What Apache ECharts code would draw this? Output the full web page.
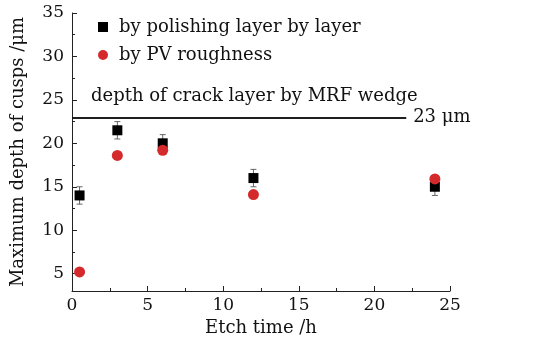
<!DOCTYPE html>
<html><head><meta charset="utf-8">
<script src="https://cdn.jsdelivr.net/npm/echarts@6/dist/echarts.min.js"></script>
<style>html,body{margin:0;padding:0;background:#fff}#c{width:545px;height:343px}</style>
</head><body><div id="c"></div>
<script>
var etchTime = [0.5, 3, 6, 12, 24];
var polishDepth = [14, 21.5, 20, 16, 15];
var polishErr = [1, 1, 1, 1, 1];
var pvDepth = [5.2, 18.6, 19.2, 14.1, 15.9];
var crackDepth = 23;
var crackLineEnd = 22.1;
var yTicks = [5, 10, 15, 20, 25, 30, 35];
var yMinorTicks = [7.5, 12.5, 17.5, 22.5, 27.5, 32.5];
var FONT = 'DejaVu Serif';

var chart = echarts.init(document.getElementById('c'));
var txt = {fontFamily: FONT, fontSize: 18, color: '#111'};
var num = {fontFamily: FONT, fontSize: 17, color: '#111'};
chart.setOption({
  animation: false,
  textStyle: {fontFamily: FONT},
  grid: {left: 72, right: 95, top: 13, bottom: 52},
  legend: {
    orient: 'vertical', left: 93, top: 13, itemWidth: 10, itemHeight: 10, itemGap: 10,
    textStyle: Object.assign({padding: [0, 0, 0, 6]}, txt),
    data: [
      {name: 'by polishing layer by layer', icon: 'rect'},
      {name: 'by PV roughness', icon: 'circle'}
    ]
  },
  xAxis: {
    type: 'value', min: 0, max: 25, interval: 5,
    name: 'Etch time /h', nameLocation: 'middle', nameGap: 26, nameTextStyle: txt,
    axisLine: {lineStyle: {color: '#222', width: 1}},
    axisTick: {inside: true, length: 5, lineStyle: {color: '#222'}},
    minorTick: {show: true, splitNumber: 2, length: 3, lineStyle: {color: '#222'}},
    axisLabel: Object.assign({margin: 6}, num),
    splitLine: {show: false}
  },
  yAxis: [{
    type: 'value', min: 3, max: 35,
    name: 'Maximum depth of cusps /μm', nameLocation: 'middle', nameGap: 45, nameTextStyle: txt,
    axisLine: {show: true, lineStyle: {color: '#222', width: 1}},
    axisTick: {show: true, inside: true, length: 5, customValues: yTicks, lineStyle: {color: '#222'}},
    axisLabel: Object.assign({margin: 8, customValues: yTicks}, num),
    splitLine: {show: false}
  }, {
    type: 'value', min: 3, max: 35, position: 'left',
    axisLine: {show: false},
    axisTick: {show: true, inside: true, length: 3, customValues: yMinorTicks, lineStyle: {color: '#222'}},
    axisLabel: {show: false},
    splitLine: {show: false}
  }],
  series: [{
    type: 'custom', name: 'err', silent: true, z: 1,
    data: etchTime.map(function (t, i) { return [t, polishDepth[i] - polishErr[i], polishDepth[i] + polishErr[i]]; }),
    renderItem: function (params, api) {
      var lo = api.coord([api.value(0), api.value(1)]);
      var hi = api.coord([api.value(0), api.value(2)]);
      var w = 3;
      var st = {stroke: '#666', lineWidth: 1};
      return {type: 'group', children: [
        {type: 'line', shape: {x1: lo[0], y1: lo[1], x2: hi[0], y2: hi[1]}, style: st},
        {type: 'line', shape: {x1: lo[0] - w, y1: lo[1], x2: lo[0] + w, y2: lo[1]}, style: st},
        {type: 'line', shape: {x1: hi[0] - w, y1: hi[1], x2: hi[0] + w, y2: hi[1]}, style: st}
      ]};
    }
  }, {
    type: 'scatter', name: 'by polishing layer by layer', symbol: 'rect', symbolSize: 10, z: 2,
    itemStyle: {color: '#000', opacity: 1},
    data: etchTime.map(function (t, i) { return [t, polishDepth[i]]; }),
    markLine: {
      silent: true, symbol: 'none', animation: false,
      lineStyle: {color: '#111', width: 1.5, type: 'solid'},
      data: [
        [{coord: [0, crackDepth], label: {show: true, position: 'end', formatter: '23 μm', distance: 7, fontFamily: FONT, fontSize: 18, color: '#111'}},
         {coord: [crackLineEnd, crackDepth]}],
        [{coord: [0, crackDepth], label: {show: true, position: 'insideStartTop', formatter: 'depth of crack layer by MRF wedge', distance: [19, 12], fontFamily: FONT, fontSize: 18, color: '#111'}},
         {coord: [crackLineEnd, crackDepth]}]
      ]
    }
  }, {
    type: 'scatter', name: 'by PV roughness', symbol: 'circle', symbolSize: 11, z: 3,
    itemStyle: {color: '#d42a2c', opacity: 1},
    data: etchTime.map(function (t, i) { return [t, pvDepth[i]]; })
  }]
});
</script></body></html>
